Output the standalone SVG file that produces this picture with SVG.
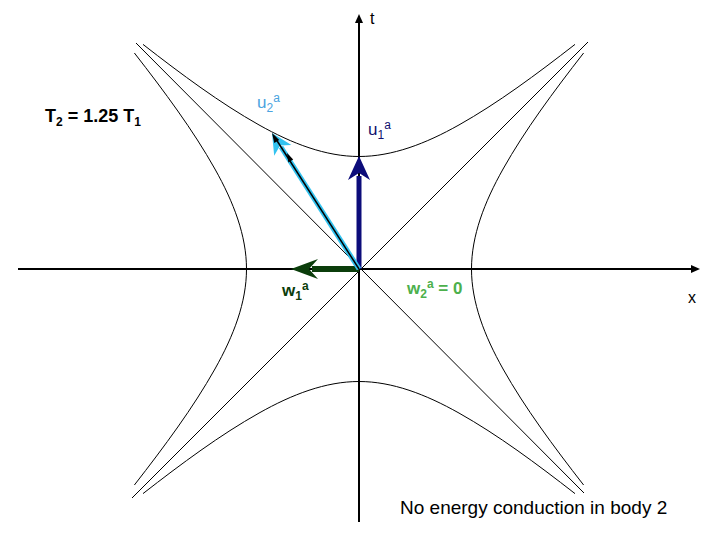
<svg xmlns="http://www.w3.org/2000/svg" xmlns:xlink="http://www.w3.org/1999/xlink" width="720" height="540" viewBox="0 0 720 540">
<style>
text{font-family:"Liberation Sans",Arial,sans-serif}
.curve{fill:none;stroke:#000;stroke-width:1}
.axis{stroke:#000;stroke-width:2;fill:none}
.lbl{font-size:17px}
.s{font-size:12px}
</style>
<defs>
<path id="branch" class="curve" d="M-216,-224.6 C-177.33,-194.48 -138.67,-165.81 -100,-144.07 C-66.67,-125.33 -33.33,-112.5 0,-112.5 C33.33,-112.5 66.67,-125.33 100,-144.07 C138.67,-165.81 177.33,-194.48 216,-224.6"/>
</defs>
<rect width="720" height="540" fill="#fff"/>
<g id="hyperbolas" transform="translate(359,269)">
<use xlink:href="#branch"/>
<use xlink:href="#branch" transform="scale(1,-1)"/>
<use xlink:href="#branch" transform="rotate(90)"/>
<use xlink:href="#branch" transform="rotate(-90)"/>
<line x1="-223" y1="-226" x2="225" y2="224" stroke="#000" stroke-width="1"/>
<line x1="-227" y1="229" x2="229" y2="-227" stroke="#000" stroke-width="1"/>
</g>
<g id="axes">
<line class="axis" x1="18" y1="269" x2="693" y2="269"/>
<polygon points="700,269 691,265 691,273" fill="#000"/>
<line class="axis" x1="359" y1="522" x2="359" y2="21"/>
<polygon points="359,14 355,23 363,23" fill="#000"/>
<text x="370" y="24" font-size="16">t</text>
<text x="688" y="303" font-size="16">x</text>
</g>
<g id="connectors">
<g id="u1">
<line x1="359" y1="269" x2="359" y2="176" stroke="#0c0c7a" stroke-width="5"/>
<polygon points="359,156 370,180 359,173 348,180" fill="#0c0c7a"/>
</g>
<g id="w1">
<line x1="359" y1="269" x2="312" y2="269" stroke="#0b3d0b" stroke-width="6"/>
<polygon points="291,269 318,259 309,269 318,279" fill="#0b3d0b"/>
</g>
<g id="u2">
<line x1="359" y1="269" x2="281" y2="147" stroke="#33c3f0" stroke-width="5"/>
<polygon points="272,133 291.4,145 280.1,145.6 274.2,155.8" fill="#33c3f0"/>
<line x1="359" y1="269" x2="274" y2="136" stroke="#000" stroke-width="1.5"/>
<polygon points="272,133 279.2,140 274.3,143" fill="#000"/>
<polygon points="287,153 293.2,159.5 288.3,162.5" fill="#000"/>
</g>
</g>
<g id="labels">
<text x="45" y="122" font-size="18" font-weight="bold">T<tspan font-size="12" dy="4">2</tspan><tspan dy="-4"> = 1.25 T</tspan><tspan font-size="12" dy="4">1</tspan></text>
<text x="257" y="108" class="lbl" fill="#4aa3e0">u<tspan class="s" dy="4">2</tspan><tspan class="s" dy="-10">a</tspan></text>
<text x="368" y="135" class="lbl" fill="#10106e">u<tspan class="s" dy="4">1</tspan><tspan class="s" dy="-10">a</tspan></text>
<text x="282" y="296" class="lbl" font-weight="bold" fill="#0b3d0b">w<tspan class="s" dy="4">1</tspan><tspan class="s" dy="-10">a</tspan></text>
<text x="407" y="294" class="lbl" font-weight="bold" fill="#4cb04c">w<tspan class="s" dy="4">2</tspan><tspan class="s" dy="-10">a</tspan><tspan dy="6"> = 0</tspan></text>
<text x="400" y="514" font-size="19">No energy conduction in body 2</text>
</g>
</svg>
